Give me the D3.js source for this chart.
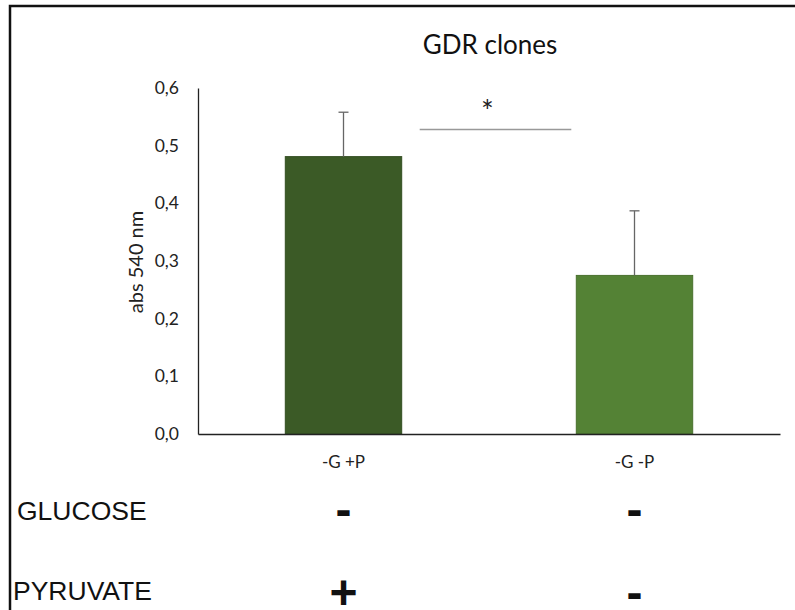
<!DOCTYPE html>
<html>
<head>
  <meta charset="UTF-8">
  <style>
    body { margin: 0; background: #fff; }
    svg { display: block; }
    .tick text { font-family: Lato, "Open Sans", sans-serif; }
  </style>
</head>
<body>
<svg></svg>
<script src="https://cdn.jsdelivr.net/npm/d3@7"></script>
<script>

// data
let categories = ["-G +P", "-G -P"];
let means = [0.481, 0.275];
let errors = [0.077, 0.112];
let barColors = ["#3b5a26", "#548235"];
let yTicks = [0, 0.1, 0.2, 0.3, 0.4, 0.5, 0.6];
let glucose = ["-", "-"];
let pyruvate = ["+", "-"];
let sigLevel = 0.528;

let width = 795, height = 610;

let svg = d3.select("svg")
    .attr("width", width)
    .attr("height", height);

// outer frame (left and top edges only visible)
svg.append("path")
    .attr("d", "M10,610 L10,6 L795,6")
    .attr("fill", "none")
    .attr("stroke", "#111")
    .attr("stroke-width", 2.5);

let x = d3.scaleBand()
    .domain(categories)
    .range([198, 780])
    .paddingInner(0.6)
    .paddingOuter(0.3);

let y = d3.scaleLinear()
    .domain([0, 0.6])
    .range([434, 88]);

let fmt = d => d3.format(".1f")(d).replace(".", ",");

// y axis
let yAxis = svg.append("g")
    .attr("transform", "translate(198,0)")
    .call(d3.axisLeft(y).tickValues(yTicks).tickFormat(fmt).tickSize(0).tickPadding(19));
yAxis.select(".domain").attr("stroke", "#222").attr("stroke-width", 1.3);
yAxis.selectAll("text").attr("font-size", 17.5).attr("fill", "#222");

// bars
let data = categories.map((c, i) => ({cat: c, v: means[i], e: errors[i], col: barColors[i]}));

svg.append("g")
    .selectAll("rect")
    .data(data)
    .enter()
    .append("rect")
      .attr("x", d => x(d.cat))
      .attr("y", d => y(d.v))
      .attr("width", x.bandwidth())
      .attr("height", d => y(0) - y(d.v))
      .attr("fill", d => d.col)
      .attr("stroke", d => d3.color(d.col).darker(0.4))
      .attr("stroke-width", 1);

// error bars (upper only)
let eb = svg.append("g")
    .attr("stroke", "#666")
    .attr("stroke-width", 1.3);
eb.selectAll("line.v")
    .data(data)
    .enter()
    .append("line")
      .attr("class", "v")
      .attr("x1", d => x(d.cat) + x.bandwidth() / 2)
      .attr("x2", d => x(d.cat) + x.bandwidth() / 2)
      .attr("y1", d => y(d.v))
      .attr("y2", d => y(d.v + d.e));
eb.selectAll("line.c")
    .data(data)
    .enter()
    .append("line")
      .attr("class", "c")
      .attr("x1", d => x(d.cat) + x.bandwidth() / 2 - 5)
      .attr("x2", d => x(d.cat) + x.bandwidth() / 2 + 5)
      .attr("y1", d => y(d.v + d.e))
      .attr("y2", d => y(d.v + d.e));

// x axis
let xAxis = svg.append("g")
    .attr("transform", "translate(0," + y(0) + ")")
    .call(d3.axisBottom(x).tickSize(0).tickPadding(22));
xAxis.select(".domain").attr("stroke", "#222").attr("stroke-width", 1.5);
xAxis.selectAll("text").attr("font-size", 17).attr("fill", "#222");

// significance
let sx1 = x(categories[0]) + x.bandwidth() + 18;
let sx2 = x(categories[1]) - 5;
svg.append("line")
    .attr("x1", sx1).attr("x2", sx2)
    .attr("y1", y(sigLevel)).attr("y2", y(sigLevel))
    .attr("stroke", "#999")
    .attr("stroke-width", 1.3);
svg.append("text")
    .attr("x", (sx1 + sx2) / 2 - 8)
    .attr("y", y(sigLevel) - 8)
    .attr("text-anchor", "middle")
    .attr("font-family", "Lato, sans-serif")
    .attr("font-size", 30)
    .attr("fill", "#222")
    .text("*");

// title
svg.append("text")
    .attr("x", 490)
    .attr("y", 54)
    .attr("text-anchor", "middle")
    .attr("font-family", "Lato, sans-serif")
    .attr("font-size", 26)
    .attr("fill", "#111")
    .text("GDR clones");

// y label
svg.append("text")
    .attr("transform", "translate(143,262) rotate(-90)")
    .attr("text-anchor", "middle")
    .attr("font-family", "Lato, sans-serif")
    .attr("font-size", 20)
    .attr("fill", "#222")
    .text("abs 540 nm");

// condition table
let rows = [
  {label: "GLUCOSE", vals: glucose, y: 520, vy: 526, lx: 17},
  {label: "PYRUVATE", vals: pyruvate, y: 600, vy: 609, lx: 13}
];
rows.forEach(r => {
  svg.append("text")
      .attr("x", r.lx)
      .attr("y", r.y)
      .attr("font-family", "Liberation Sans, Arial, sans-serif")
      .attr("font-size", 26.5)
      .attr("fill", "#111")
      .text(r.label);
  svg.append("g")
    .selectAll("text")
    .data(r.vals.map((v, i) => ({v: v, cat: categories[i]})))
    .enter()
    .append("text")
      .attr("x", d => x(d.cat) + x.bandwidth() / 2)
      .attr("y", r.vy)
      .attr("text-anchor", "middle")
      .attr("font-family", "Liberation Sans, Arial, sans-serif")
      .attr("font-weight", "bold")
      .attr("font-size", 48)
      .attr("fill", "#111")
      .text(d => d.v);
});

</script>
</body>
</html>
